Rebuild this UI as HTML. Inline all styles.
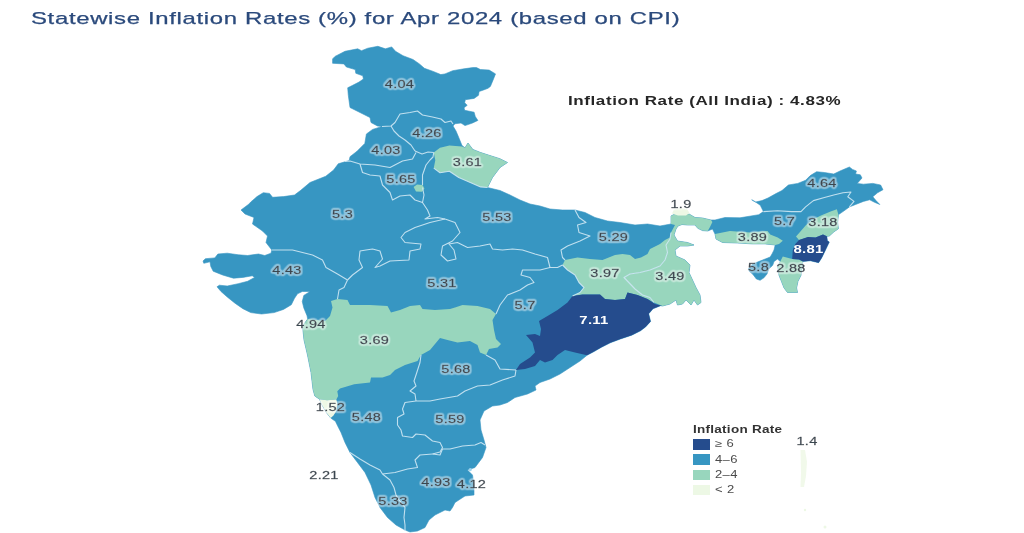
<!DOCTYPE html>
<html><head><meta charset="utf-8"><title>Statewise Inflation Rates</title>
<style>
html,body{margin:0;padding:0;background:#fff;}
body{width:1024px;height:533px;position:relative;overflow:hidden;font-family:"Liberation Sans",sans-serif;}
#title{position:absolute;left:31.3px;top:9.3px;font-size:17px;color:#2b4a7c;white-space:nowrap;letter-spacing:.47px;line-height:20px;transform:scaleX(1.407);transform-origin:0 0;-webkit-text-stroke:.25px #2b4a7c;}
#all{position:absolute;left:568px;top:92.7px;font-size:13px;font-weight:bold;color:#262626;white-space:nowrap;letter-spacing:.45px;line-height:16px;transform:scaleX(1.308);transform-origin:0 0;}
svg{position:absolute;left:0;top:0;}
.lb{font-family:"Liberation Sans",sans-serif;font-size:10px;fill:#3a4650;text-anchor:middle;stroke:#3a4650;stroke-width:.3px;letter-spacing:.2px;filter:url(#halo)}
.lw{font-family:"Liberation Sans",sans-serif;font-size:10.2px;font-weight:bold;fill:#fff;text-anchor:middle;letter-spacing:.2px}
#legend{position:absolute;left:693px;top:422px;font-size:10px;color:#4a4a4a;}
#legend b{display:block;color:#333;font-size:10px;letter-spacing:.2px;height:17px;line-height:12px;position:relative;top:1.7px;left:-.3px;transform:scaleX(1.35);transform-origin:0 0;white-space:nowrap}
#legend div{height:15.3px;line-height:10.5px;white-space:nowrap;position:relative}
#legend i{display:block;position:absolute;left:0;top:0;width:17px;height:10.5px}
#legend span{position:absolute;left:21.5px;top:0;transform:scaleX(1.3);transform-origin:0 0;letter-spacing:.3px;top:.3px}
</style></head><body>
<div id="title">Statewise Inflation Rates (%) for Apr 2024 (based on CPI)</div>
<div id="all">Inflation Rate (All India) : 4.83%</div>
<svg width="1024" height="533" viewBox="0 0 1024 533">
<defs><filter id="halo" x="-20%" y="-40%" width="140%" height="180%"><feMorphology in="SourceAlpha" operator="dilate" radius="0.7 1.0" result="d"/><feGaussianBlur in="d" stdDeviation="0.6 0.9" result="g"/><feComponentTransfer in="g" result="b"><feFuncA type="linear" slope="3" intercept="-0.15"/></feComponentTransfer><feFlood flood-color="#fff" flood-opacity="0.42"/><feComposite in2="b" operator="in" result="h"/><feMerge><feMergeNode in="h"/><feMergeNode in="SourceGraphic"/></feMerge></filter></defs>
<polygon points="332.6,58.9 335,56.4 345,51.3 357.7,48.8 361.5,50.7 367.8,48.2 377.9,46.3 385.4,48.8 391.7,46.9 395.5,51.3 403,55.7 413,59.5 419.4,63.9 424.4,68.3 433.2,71.4 440.8,74.6 445,73.9 452.7,70.7 464,68.8 472.8,67.6 476.5,67.6 480.4,69.5 489.2,70.1 495.5,73.9 493,80.2 490.4,86.4 488,88.3 482.9,90.2 479.1,91.5 478.5,95.3 474.1,98.4 465.3,99.7 464.7,102.8 467.2,105.3 464,107.8 464.7,110.3 474.1,112.2 475.3,116.6 477.9,120.4 472.5,123 465,125.6 461,123 455,123.75 453,126 456,131 458.75,137.5 462,145.6 465,147.8 468,143 472.8,149.4 480.6,152.5 490,155.6 500,158.75 507.5,162.5 500,167.5 492.5,177.5 487.5,187.5 500,190.5 510,195 520,200 530,204 540,206 550,209 562.5,210 575,210 585,212.5 595,217.5 607.5,221 620,222.5 635,225 647.5,224 660,226 671,224 671,216 675,214 682.5,214 689.4,214.2 695,217.5 702.5,218 711,220 715,220 725,217.5 740,217.8 749.4,216.25 758.75,214.7 763.4,211.6 760.3,205.3 755.6,202 751.7,199.8 755.6,202 762,200.6 768,198 776,193.6 782,190.5 788.4,185 797.8,183.4 805.6,180.3 810.3,175.6 816.6,171.7 824.4,172.5 833.75,174 840,171 849.4,167 852.5,169.4 856.4,171 855.6,174 860.3,174.8 862,178 857.2,183.4 863.4,184.2 872.8,183.4 880.6,185 883,189.7 877.5,192.8 872.8,196.7 876,200.6 879.8,204.5 874.4,202.2 869.7,199.8 863.4,201.4 855.6,204.5 849.4,206.9 843,211.6 838.4,214.7 837.7,222.5 838.4,228.75 833.75,231.9 829.3,236 826.8,236.3 827.4,240.7 829.3,242 825.5,250 821.8,257.7 818.6,262.7 810.4,260.8 802.9,261.5 801.6,269 801,275.3 797.9,281.6 796.6,287.9 797.5,292.5 787.5,292.5 784,287.9 781.5,281.6 779,275.3 777.7,266.5 780.25,261.5 777.5,259 774,261.5 772.7,265.25 768.9,269 767,274 763.9,277.8 760.1,280.3 756.4,279 752.6,274 749.4,271.5 748.2,269 752.6,264 758.9,261.5 765.2,259 770.2,257 772,254 774,250 775.2,245 765.2,243.9 752.6,243.9 737.5,243 722.5,242.5 716,239 715,234 712.5,229 707.7,231 702.5,230.6 697.8,228.3 695,225 687.5,225 682,224.5 678,226 676,229 674,235 677.5,241 687.5,242.5 694,245 687.5,246 680,246 675,250 676,256 685,260 690,265 689,272.5 692.5,280 696,287.5 700,295 701,302.5 697.5,305 694,300 691,305 686,300 682.5,304 677.5,305 676,300 670,304 662.5,306 660.6,305.7 653,308.8 648.7,313.8 650.6,321.4 645.5,327 640.5,330.8 631.7,335.2 620.4,339 610.3,342.8 601.5,347.2 594,351.6 587,355.3 580,361 570,367.5 560,374 550,379 540,382.5 535,386 536,390 527.5,394 515,397.5 507.5,402.5 500,405 492.5,406 484,411 480,420 481,430 484,440 486,447.5 482.5,457.5 475,467.5 467.5,470 472.5,475 474,485 474,495 465,496 455,502.5 452.5,507.5 450,511 445,510 435,515 429,520 425,527.5 417.5,531 410,532 405,530 396,525 387.5,517.5 380,507.5 375,497.5 371,485 365,472.5 357.5,462.5 350,452.5 345,442.5 341,432.5 338.2,427 335.4,421.3 330.7,418 326,412 322,405 319.5,399.2 314.8,396 313,389.4 311,372.5 307.5,355 304,340 302.5,326 307.7,319 307,315.7 303.8,307.9 302.25,301.6 303.8,295.4 310,291.5 302.25,291.5 297.5,293.8 294.4,298.5 291.3,304.75 283.5,309.4 274.1,312.6 261.6,314 250.7,312.6 242.9,308.7 235,303.2 227.25,297 221,291.5 217,286.8 219.4,285.2 227.25,286 238.2,283.7 247.6,281.3 254.6,277.4 252.25,275.8 242.9,277.4 233.5,278.2 222.6,275 213.2,271.2 210.8,266.5 210,261.8 203.8,263.3 203,261 205.4,258.7 214.75,257.9 217.9,254 227.25,253.2 238.2,254.75 247.6,255.5 258.5,254 264.75,255.5 271,253.2 271.8,250 266,242.5 267.5,236 262.5,231 252.5,224 254,217.5 245,214 241,210 249,204 250.75,202 257,196.6 263.25,192.7 269.5,193.4 272.6,197.3 283.6,196.6 294.5,195 300.75,190.3 310,182.5 325.75,176.25 333.6,170 338.25,163.75 349.2,160.6 350,156.7 357,151.25 364.8,143.4 366.4,134 372.6,129.4 382,126.5 377.5,126 371,122.5 370,117.5 360,112.5 350,107.5 348.3,95.3 347.7,87.8 352.7,85.3 359,82.1 363.4,79 362.8,75.8 355.8,73.3 355.2,69.6 346.4,67 343.9,63.9 332.6,63.3" fill="#3796c2" stroke="#3796c2" stroke-width="0.6" stroke-linejoin="round"/>
<polygon points="433.75,152.5 440,147.8 449.4,145.5 458.75,146.25 462,146.5 465,147.8 468,143 472.8,149.4 480.6,152.5 490,155.6 500,158.75 507.5,162.5 500,167.5 492.5,177.5 487.5,187.5 480.6,186.9 469.7,182.2 458.75,177.5 449.4,171.25 440,172.8 433.75,168.1 435.3,160.3" fill="#98d6bd"/>
<polygon points="302.5,326 307.7,319 325,321 330,316 332.5,307.5 331,301 337.5,299 347.5,300 350,305 370,305 387.5,306 391,312.5 400,310 410,306 420,305 422.5,309 435,310 450,309 455,307.5 462.5,305 477.5,306 490,309 496,314 492.5,320 494,330 496,339 501,344 497.5,347.5 489,349 486,355 480,352.5 477.5,345 470,341 457.5,342.5 447.5,340 440,338 435,344 430,350 421,355 417.5,361 405,365 395,370 390,375 382.5,377.5 371,377.5 370,382.5 354.2,384.2 346.7,386.6 340,388.4 337.3,391.3 338.2,396 336.3,399.5 327,400.2 319.5,399.2 314.8,396 313,389.4 311,372.5 307.5,355 304,340" fill="#98d6bd"/>
<polygon points="565,260 577.5,257.5 590,259 602.5,260 615,255 622.5,254 630,255 635,259 641,257.5 647.5,254 650,249 660,244 665,240 670,237.5 671,232.5 667.5,252.5 665,260 660,266 650,270 640,272.5 630,274 624,277.5 635,289 642.5,295 650,297.5 654,302.5 647.5,299 637.5,295 627.5,292.5 625,299 615,300 605,299 600,294.5 582.5,294.5 572.5,296 580,292.5 584,287.5 579,282.5 575,275 567.5,270 562.5,265" fill="#98d6bd"/>
<polygon points="675,225 671,224 671,216 675,214 682.5,214 689.4,214.2 695,217.5 702.5,218 711,220 712.4,222 710,227 707.7,231 702.5,230.6 697.8,228.3 695,225 687.5,225 682,224.5 678,226 676,229 674,235 677.5,241 687.5,242.5 694,245 687.5,246 680,246 675,250 676,256 685,260 690,265 689,272.5 692.5,280 696,287.5 700,295 701,302.5 697.5,305 694,300 691,305 686,300 682.5,304 677.5,305 676,300 670,304 662.5,306 654,302.5 650,297.5 642.5,295 635,289 624,277.5 630,274 640,272.5 650,270 660,266 665,260 667.5,252.5 666,245 670,239 671,232.5" fill="#98d6bd"/>
<polygon points="715,234 730,231 750,232.5 767.5,231 770.2,234.4 777.7,237.6 782.8,240.7 779,243.9 775.2,245 765.2,243.9 752.6,243.9 737.5,243 722.5,242.5 716,239" fill="#98d6bd"/>
<polygon points="836.9,209.2 838.4,214.7 837.7,222.5 838.4,228.75 833.75,231.9 829.3,236 826.8,236.3 823,234.4 815.5,237.6 808,237 799,240 796,236.6 800,231.9 805.6,225.6 811.9,220 821,215.5 830.6,211.6" fill="#98d6bd"/>
<polygon points="782.8,256.4 792.2,259 799,259.6 802.9,261.5 801.6,269 801,275.3 797.9,281.6 796.6,287.9 797.5,292.5 787.5,292.5 784,287.9 781.5,281.6 779,275.3 777.7,266.5 780.25,261.5" fill="#98d6bd"/>
<polygon points="413.6,187 417,184.6 422.5,185 424.4,188.5 422,191.8 416,191.5" fill="#98d6bd"/>
<polygon points="516,370 520,364 530,357.5 535,352.5 532.5,342.5 526,335 535,334 540,336 541,329 539,321 547.5,316 557.5,310 567.5,302.5 572.5,296 582.5,294.5 600,294.5 605,299 615,300 625,299 627.5,292.5 637.5,295 647.5,299 655,304 662.5,306 660.6,305.7 653,308.8 648.7,313.8 650.6,321.4 645.5,327 640.5,330.8 631.7,335.2 620.4,339 610.3,342.8 601.5,347.2 594,351.6 587,355.3 575,352.5 565,350 557.5,355 552.5,360 545,362.5 540,360 535,366 525,369" fill="#254c8d"/>
<polygon points="792.2,259 792.8,250 795.3,243.9 799,240 808,237 815.5,237.6 823,234.4 826.8,236.3 827.4,240.7 829.3,242 825.5,250 821.8,257.7 818.6,262.7 810.4,260.8 802.9,261.5 799,259.6" fill="#254c8d"/>
<polygon points="672,213.5 674,209.5 680,208 687,209 689.5,213 686,215.5 678,215.5" fill="#edf8e5"/>
<polygon points="319.5,399.2 327,400.2 336.3,399.5 337.3,403.5 336.3,411 333.5,415.6 330.7,418 326,412 322,405" fill="#edf8e5"/>
<polyline points="382,126.5 391,126 395,122.5 400,114 410,112.5 417.5,111 422.5,115 432.5,117 441,119 445,122.5 451,121 453,124" fill="none" stroke="#cfe8f4" stroke-width="1.1" stroke-linejoin="round" opacity="0.9"/>
<polyline points="391,126 394,131 399,136 405,140 411,145 415,151" fill="none" stroke="#cfe8f4" stroke-width="1.1" stroke-linejoin="round" opacity="0.9"/>
<polyline points="415,151 422,154 428,152 433.75,152.5" fill="none" stroke="#cfe8f4" stroke-width="1.1" stroke-linejoin="round" opacity="0.9"/>
<polyline points="416,152.5 412.5,159 402.5,161 390,167.5 375,165 360,164 350,161 345,161.5" fill="none" stroke="#cfe8f4" stroke-width="1.1" stroke-linejoin="round" opacity="0.9"/>
<polyline points="360,164 362.5,172.5 370,175 380,176 382.5,185 390,192.5 392.5,200 400,196 410,195 415,200 422.5,202.5 424,195 422.5,187.5" fill="none" stroke="#cfe8f4" stroke-width="1.1" stroke-linejoin="round" opacity="0.9"/>
<polyline points="422.5,185 422.5,175 426,165 430,160 433,157 433.75,152.5" fill="none" stroke="#cfe8f4" stroke-width="1.1" stroke-linejoin="round" opacity="0.9"/>
<polyline points="433.75,168.1 440,172.8 449.4,171.25 458.75,177.5 469.7,182.2 480.6,186.9 487.5,187.5" fill="none" stroke="#cfe8f4" stroke-width="1.1" stroke-linejoin="round" opacity="0.9"/>
<polyline points="422.5,202.5 427.5,210 430,216 425,219 437.5,217.5 445,219" fill="none" stroke="#cfe8f4" stroke-width="1.1" stroke-linejoin="round" opacity="0.9"/>
<polyline points="445,219 430,222.5 415,227.5 405,232.5 401,237.5 405,242.5 421,244 420,249 410,251 409,260 390,261 380,266 375,267.5 382.5,259 380,251 372.5,249 366,250 360,251 359,260 362.5,267.5 352.5,275 347.5,280" fill="none" stroke="#cfe8f4" stroke-width="1.1" stroke-linejoin="round" opacity="0.9"/>
<polyline points="271.8,250 292.5,250 312.5,255 322.5,260 326,267.5 337.5,274 347.5,280" fill="none" stroke="#cfe8f4" stroke-width="1.1" stroke-linejoin="round" opacity="0.9"/>
<polyline points="347.5,280 344,287.5 339,290 337.5,299" fill="none" stroke="#cfe8f4" stroke-width="1.1" stroke-linejoin="round" opacity="0.9"/>
<polyline points="445,219 455,222.5 460,232.5 452.5,241 442.5,246 441,255 447.5,261 456,259 454,250 449,244 457.5,242.5 467.5,247.5 480,246 490,244 492.5,249 502.5,250 512.5,249 522.5,250 535,254 547.5,257.5 550,267.5 557.5,267.5 562.5,265" fill="none" stroke="#cfe8f4" stroke-width="1.1" stroke-linejoin="round" opacity="0.9"/>
<polyline points="575,210 579,217.5 586,222.5 577.5,225 579,232.5 590,236 580,241 567.5,246 561,250 562.5,257.5 565,260" fill="none" stroke="#cfe8f4" stroke-width="1.1" stroke-linejoin="round" opacity="0.9"/>
<polyline points="550,267.5 540,270 522.5,270 521,275 530,277.5 534,282.5 527.5,285 520,290 507.5,295 500,305 496,314" fill="none" stroke="#cfe8f4" stroke-width="1.1" stroke-linejoin="round" opacity="0.9"/>
<polyline points="562.5,265 567.5,270 575,275 579,282.5 584,287.5 580,292.5 572.5,296" fill="none" stroke="#cfe8f4" stroke-width="1.1" stroke-linejoin="round" opacity="0.9"/>
<polyline points="486,355 495,360 500,369 516,370" fill="none" stroke="#cfe8f4" stroke-width="1.1" stroke-linejoin="round" opacity="0.9"/>
<polyline points="516,370 515,376 502.5,380 490,385 477.5,386 465,391 457.5,396 440,399 430,401 416,401" fill="none" stroke="#cfe8f4" stroke-width="1.1" stroke-linejoin="round" opacity="0.9"/>
<polyline points="421,355 420,362.5 416,375 414,381 416,386 410,391 415,394 416,401" fill="none" stroke="#cfe8f4" stroke-width="1.1" stroke-linejoin="round" opacity="0.9"/>
<polyline points="416,401 405,402.5 402.5,409 404,414 397.5,417.5 397.5,425 401,430 402.5,436 412.5,437.5 416,434 425,435 432.5,441 440,442.5 442.5,447.5 440,452 432.5,454" fill="none" stroke="#cfe8f4" stroke-width="1.1" stroke-linejoin="round" opacity="0.9"/>
<polyline points="432.5,454 440,455 442.5,449 450,449 462.5,446 475,445 481,442.5 485,445" fill="none" stroke="#cfe8f4" stroke-width="1.1" stroke-linejoin="round" opacity="0.9"/>
<polyline points="432.5,454 420,455 415,460 417.5,467.5 407.5,469 395,472.5 382.5,474" fill="none" stroke="#cfe8f4" stroke-width="1.1" stroke-linejoin="round" opacity="0.9"/>
<polyline points="350,452.5 360,459 370,465 380,470 382.5,474" fill="none" stroke="#cfe8f4" stroke-width="1.1" stroke-linejoin="round" opacity="0.9"/>
<polyline points="382.5,474 390,480 394,487.5 396,495 399,500 405,507.5 404,517.5 405,525 405,531" fill="none" stroke="#cfe8f4" stroke-width="1.1" stroke-linejoin="round" opacity="0.9"/>
<polyline points="763.4,211.6 777.5,210.8 791.6,211.6 801,211.6 805.6,206.9 813.4,200.6 824.4,197.5 833.75,195 843,192.8 851,192 847.8,196.7 854,201.4 849.4,206.9" fill="none" stroke="#cfe8f4" stroke-width="1.1" stroke-linejoin="round" opacity="0.9"/>
<polyline points="671,232.5 670,239 666,245 667.5,252.5 665,260 660,266 650,270 640,272.5 630,274 624,277.5 635,289 642.5,295 650,297.5 654,302.5" fill="none" stroke="#cfe8f4" stroke-width="1.1" stroke-linejoin="round" opacity="0.9"/>
<circle cx="470.3" cy="469.6" r="1.6" fill="#9fd4ee"/>
<path d="M800.5,450 l4.5,0 l2,12 l-1,14 l-2,11 l-3.5,0 l0.5,-14 z" fill="#edf8e5" opacity="0.8"/>
<circle cx="805" cy="510" r="1.2" fill="#edf8e5"/><circle cx="825" cy="527" r="1.5" fill="#edf8e5"/>
<text transform="translate(399.5,88.2) scale(1.45,1)" class="lb">4.04</text>
<text transform="translate(427,137.2) scale(1.45,1)" class="lb">4.26</text>
<text transform="translate(386,154.2) scale(1.45,1)" class="lb">4.03</text>
<text transform="translate(467.5,166.2) scale(1.45,1)" class="lb">3.61</text>
<text transform="translate(401,183.2) scale(1.45,1)" class="lb">5.65</text>
<text transform="translate(342.5,218.2) scale(1.45,1)" class="lb">5.3</text>
<text transform="translate(497,221.2) scale(1.45,1)" class="lb">5.53</text>
<text transform="translate(287,274.2) scale(1.45,1)" class="lb">4.43</text>
<text transform="translate(442,287.2) scale(1.45,1)" class="lb">5.31</text>
<text transform="translate(311,327.7) scale(1.45,1)" class="lb">4.94</text>
<text transform="translate(374.5,344.2) scale(1.45,1)" class="lb">3.69</text>
<text transform="translate(525,309.2) scale(1.45,1)" class="lb">5.7</text>
<text transform="translate(613.5,241.2) scale(1.45,1)" class="lb">5.29</text>
<text transform="translate(605,277.2) scale(1.45,1)" class="lb">3.97</text>
<text transform="translate(670,280.2) scale(1.45,1)" class="lb">3.49</text>
<text transform="translate(681,208.2) scale(1.45,1)" class="lb">1.9</text>
<text transform="translate(752.5,241.2) scale(1.45,1)" class="lb">3.89</text>
<text transform="translate(784.5,225.2) scale(1.45,1)" class="lb">5.7</text>
<text transform="translate(823,226.2) scale(1.45,1)" class="lb">3.18</text>
<text transform="translate(822,187.2) scale(1.45,1)" class="lb">4.64</text>
<text transform="translate(758.5,271.2) scale(1.45,1)" class="lb">5.8</text>
<text transform="translate(791,272.2) scale(1.45,1)" class="lb">2.88</text>
<text transform="translate(456,373.2) scale(1.45,1)" class="lb">5.68</text>
<text transform="translate(366.5,421.2) scale(1.45,1)" class="lb">5.48</text>
<text transform="translate(450,423.2) scale(1.45,1)" class="lb">5.59</text>
<text transform="translate(330.5,411.2) scale(1.45,1)" class="lb">1.52</text>
<text transform="translate(324,479.2) scale(1.45,1)" class="lb">2.21</text>
<text transform="translate(436,486.2) scale(1.45,1)" class="lb">4.93</text>
<text transform="translate(471.5,488.2) scale(1.45,1)" class="lb">4.12</text>
<text transform="translate(393,504.7) scale(1.45,1)" class="lb">5.33</text>
<text transform="translate(807,445.2) scale(1.45,1)" class="lb">1.4</text>
<text transform="translate(594,323.8) scale(1.46,1)" class="lw">7.11</text>
<text transform="translate(808.5,252.8) scale(1.46,1)" class="lw">8.81</text>
</svg>
<div id="legend"><b>Inflation Rate</b>
<div><i style="background:#254c8d"></i><span>≥ 6</span></div>
<div><i style="background:#3796c2"></i><span>4–6</span></div>
<div><i style="background:#98d6bd"></i><span>2–4</span></div>
<div><i style="background:#edf8e5"></i><span>&lt; 2</span></div>
</div>
</body></html>
